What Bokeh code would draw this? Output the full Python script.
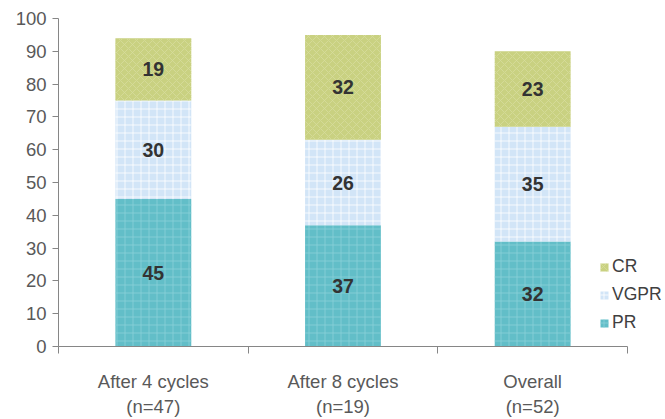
import numpy as np
from bokeh.plotting import figure
from bokeh.models import (FixedTicker, Legend, LegendItem, ColumnDataSource)
from bokeh.core.properties import value
from bokeh.embed import file_html
from bokeh.resources import INLINE

categories = ["After 4 cycles\n(n=47)", "After 8 cycles\n(n=19)", "Overall\n(n=52)"]
series_names = ["PR", "VGPR", "CR"]
pr = [45, 37, 32]
vgpr = [30, 26, 35]
cr = [19, 32, 23]
y_ticks = [0, 10, 20, 30, 40, 50, 60, 70, 80, 90, 100]

colors = {"PR": "#62bec8", "VGPR": "#d2e5f7", "CR": "#c9d181"}
hatch_colors = {"PR": "#8ad0d8", "VGPR": "#ffffff", "CR": "#d6dc9c"}
hatches = {"PR": "cross", "VGPR": "cross", "CR": "diagonal_cross"}

FONT = "Liberation Sans"
W, H = 665, 419
FL, FT, FB = 58, 18, 350
n = len(categories)
cat_w = (627 - FL) / n
FR = 665
x_end = (FR - FL) / cat_w
xc = [i + 0.5 for i in range(n)]

p = figure(width=W, height=H, x_range=(0, x_end), y_range=(0, 100),
           output_backend="svg", toolbar_location=None,
           min_border_left=FL, min_border_right=W - FR, min_border_top=FT,
           min_border_bottom=H - FB)
p.outline_line_color = None
p.grid.grid_line_color = None
p.background_fill_color = "white"
p.border_fill_color = "white"

data = {"x": xc, "PR": pr, "VGPR": vgpr, "CR": cr}
src = ColumnDataSource(data)
renderers = p.vbar_stack(series_names, x="x", width=0.4, source=src,
                         fill_color=[colors[s] for s in series_names],
                         hatch_pattern=[hatches[s] for s in series_names],
                         hatch_color=[hatch_colors[s] for s in series_names],
                         hatch_scale=8, hatch_weight=1, hatch_alpha=0.8,
                         line_color=None)

vals = np.array([pr, vgpr, cr], dtype=float)
cum = np.cumsum(vals, axis=0)
mids = cum - vals / 2
lx, ly, lt = [], [], []
for si in range(vals.shape[0]):
    for ci in range(n):
        lx.append(xc[ci]); ly.append(mids[si, ci]); lt.append(str(int(vals[si, ci])))
p.text(x=lx, y=ly, text=lt, text_align="center", text_baseline="middle",
       text_font=value(FONT), text_font_size="19.5px", text_font_style="bold",
       text_color="#333333")

xa = p.xaxis[0]
xa.bounds = (0, n)
xa.ticker = FixedTicker(ticks=xc, minor_ticks=list(range(n + 1)))
xa.major_label_overrides = {xc[i]: categories[i] for i in range(n)}
xa.major_tick_out = 0
xa.major_tick_in = 0
xa.minor_tick_out = 7
xa.minor_tick_in = 0
xa.minor_tick_line_color = "#868686"
xa.axis_line_color = "#868686"
xa.major_label_text_font = FONT
xa.major_label_text_font_size = "18.5px"
xa.major_label_text_color = "#595959"
xa.major_label_standoff = 17

ya = p.yaxis[0]
ya.ticker = FixedTicker(ticks=y_ticks)
ya.minor_tick_line_color = None
ya.major_tick_out = 6
ya.major_tick_in = 0
ya.major_tick_line_color = "#868686"
ya.axis_line_color = "#868686"
ya.major_label_text_font = FONT
ya.major_label_text_font_size = "18.5px"
ya.major_label_text_color = "#595959"
ya.major_label_standoff = 6

name_to_r = dict(zip(series_names, renderers))
legend = Legend(items=[LegendItem(label=s, renderers=[name_to_r[s]]) for s in ["CR", "VGPR", "PR"]],
                location=(541, 13), orientation="vertical",
                glyph_width=10, glyph_height=10, label_standoff=3,
                label_text_font=FONT, label_text_font_size="17.5px", label_text_color="#404040",
                label_height=20, spacing=7, padding=0, margin=0,
                border_line_color=None, background_fill_alpha=0)
p.add_layout(legend)

open("out.html", "w").write(file_html(p, INLINE))
